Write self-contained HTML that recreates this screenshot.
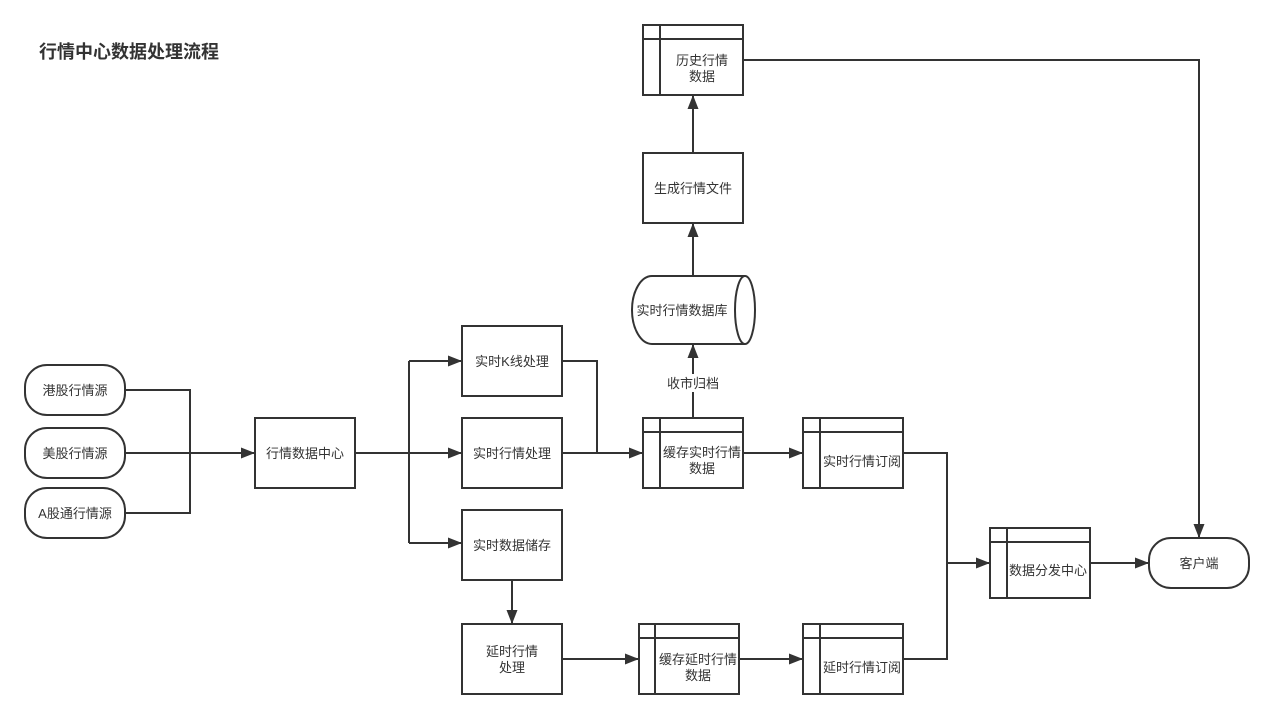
<!DOCTYPE html>
<html><head><meta charset="utf-8"><style>
html,body{margin:0;padding:0;background:#fff;}
svg{display:block;}
text{font-family:"Liberation Sans","Noto Sans CJK SC",sans-serif;fill:#333;font-size:13px;}
</style></head><body>
<svg width="1274" height="719" viewBox="0 0 1274 719" xmlns="http://www.w3.org/2000/svg">
<defs>
<marker id="a" markerWidth="16" markerHeight="12" refX="14" refY="5.5" orient="auto" markerUnits="userSpaceOnUse">
<path d="M0,0 L14,5.5 L0,11 Z" fill="#333"/>
</marker>
</defs>
<rect width="1274" height="719" fill="#fff"/>
<text x="39" y="58" style="font-size:18px;font-weight:bold;fill:#333">行情中心数据处理流程</text>

<g fill="none" stroke="#333" stroke-width="2">
<!-- sources -->
<rect x="25" y="365" width="100" height="50" rx="22"/>
<rect x="25" y="428" width="100" height="50" rx="22"/>
<rect x="25" y="488" width="100" height="50" rx="22"/>
<path d="M125,390 H190 V513 H125"/>
<path d="M125,453 H255" marker-end="url(#a)"/>
<rect x="255" y="418" width="100" height="70"/>
<path d="M355,453 H409"/>
<path d="M409,361 V543"/>
<path d="M409,361 H462" marker-end="url(#a)"/>
<path d="M409,453 H462" marker-end="url(#a)"/>
<path d="M409,543 H462" marker-end="url(#a)"/>
<rect x="462" y="326" width="100" height="70"/>
<rect x="462" y="418" width="100" height="70"/>
<rect x="462" y="510" width="100" height="70"/>
<path d="M562,361 H597 V453"/>
<path d="M562,453 H643" marker-end="url(#a)"/>
<!-- cache realtime -->
<rect x="643" y="418" width="100" height="70"/>
<path d="M660,418 V488 M643,432 H743"/>
<path d="M693,418 V344" marker-end="url(#a)"/>
<!-- cylinder -->
<path d="M745,276 H652 A20,34 0 0 0 652,344 H745"/>
<ellipse cx="745" cy="310" rx="10" ry="34"/>
<path d="M693,276 V223" marker-end="url(#a)"/>
<rect x="643" y="153" width="100" height="70"/>
<path d="M693,153 V95" marker-end="url(#a)"/>
<rect x="643" y="25" width="100" height="70"/>
<path d="M660,25 V95 M643,39 H743"/>
<path d="M743,60 H1199 V538" marker-end="url(#a)"/>
<!-- subscriptions -->
<path d="M743,453 H803" marker-end="url(#a)"/>
<rect x="803" y="418" width="100" height="70"/>
<path d="M820,418 V488 M803,432 H903"/>
<path d="M903,453 H947 V659 H903"/>
<path d="M947,563 H990" marker-end="url(#a)"/>
<rect x="990" y="528" width="100" height="70"/>
<path d="M1007,528 V598 M990,542 H1090"/>
<path d="M1090,563 H1149" marker-end="url(#a)"/>
<rect x="1149" y="538" width="100" height="50" rx="22"/>
<!-- delayed -->
<path d="M512,580 V624" marker-end="url(#a)"/>
<rect x="462" y="624" width="100" height="70"/>
<path d="M562,659 H639" marker-end="url(#a)"/>
<rect x="639" y="624" width="100" height="70"/>
<path d="M655,624 V694 M639,638 H739"/>
<path d="M739,659 H803" marker-end="url(#a)"/>
<rect x="803" y="624" width="100" height="70"/>
<path d="M820,624 V694 M803,638 H903"/>
</g>
<rect x="665" y="374" width="56" height="18" fill="#fff"/>

<g text-anchor="middle">
<text x="75" y="395">港股行情源</text>
<text x="75" y="458">美股行情源</text>
<text x="75" y="518">A股通行情源</text>
<text x="305" y="458">行情数据中心</text>
<text x="512" y="366">实时K线处理</text>
<text x="512" y="458">实时行情处理</text>
<text x="512" y="550">实时数据储存</text>
<text x="702" y="457">缓存实时行情</text>
<text x="702" y="473">数据</text>
<text x="693" y="388">收市归档</text>
<text x="682" y="315">实时行情数据库</text>
<text x="693" y="193">生成行情文件</text>
<text x="702" y="65">历史行情</text>
<text x="702" y="81">数据</text>
<text x="862" y="466">实时行情订阅</text>
<text x="1048" y="575">数据分发中心</text>
<text x="1199" y="568">客户端</text>
<text x="512" y="656">延时行情</text>
<text x="512" y="672">处理</text>
<text x="698" y="664">缓存延时行情</text>
<text x="698" y="680">数据</text>
<text x="862" y="672">延时行情订阅</text>
</g>
</svg>
</body></html>
